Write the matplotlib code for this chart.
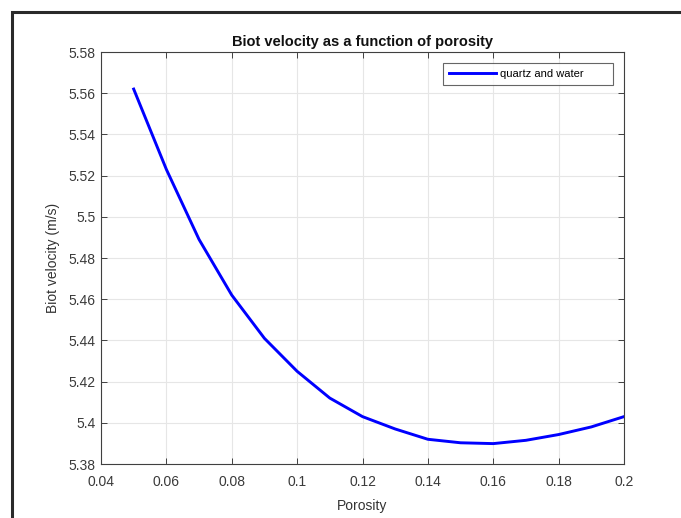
import matplotlib
matplotlib.use("Agg")
import matplotlib.pyplot as plt
from matplotlib.patches import Rectangle
from matplotlib.ticker import FormatStrFormatter

plt.rcParams["font.family"] = ["Liberation Sans", "DejaVu Sans"]

# data
porosity = [0.05, 0.06, 0.07, 0.08, 0.09, 0.10, 0.11, 0.12,
            0.13, 0.14, 0.15, 0.16, 0.17, 0.18, 0.19, 0.20]
velocity = [5.562, 5.523, 5.489, 5.462, 5.441, 5.425, 5.412, 5.403,
            5.397, 5.392, 5.3903, 5.3899, 5.3915, 5.3943, 5.398, 5.403]
x_ticks = [0.04, 0.06, 0.08, 0.1, 0.12, 0.14, 0.16, 0.18, 0.2]
y_ticks = [5.38, 5.4, 5.42, 5.44, 5.46, 5.48, 5.5, 5.52, 5.54, 5.56, 5.58]

W, H = 681, 518
fig = plt.figure(figsize=(W / 100, H / 100), dpi=100)

# dark frame of the screenshot (cropped on right and bottom)
frame = Rectangle((11.5 / W, -0.1), 1.2, 1.1 - 12 / H, transform=fig.transFigure,
                  fill=False, edgecolor="#2a2a2a", linewidth=2.2, clip_on=False)
fig.patches.append(frame)

ax = fig.add_axes([101 / W, 1 - 464 / H, 523 / W, 412 / H])
ax.plot(porosity, velocity, color=(0, 0, 1), linewidth=2.1, label="quartz and water")

ax.set_xlim(0.04, 0.2)
ax.set_ylim(5.38, 5.58)
ax.set_xticks(x_ticks)
ax.set_yticks(y_ticks)
ax.xaxis.set_major_formatter(FormatStrFormatter("%g"))
ax.yaxis.set_major_formatter(FormatStrFormatter("%g"))

ax.grid(True, color="#e6e6e6", linewidth=0.8)
ax.set_axisbelow(True)
ax.tick_params(direction="in", top=True, right=True, length=4, width=0.7,
               colors="#404040", labelsize=10, labelcolor="#3a3a3a")
ax.tick_params(axis="x", pad=8)
ax.tick_params(axis="y", pad=4)
for sp in ax.spines.values():
    sp.set_color("#404040")
    sp.set_linewidth(0.8)

ax.set_title("Biot velocity as a function of porosity", fontsize=10.5,
             fontweight="bold", color="#111111", pad=4)
ax.set_xlabel("Porosity", fontsize=10, color="#333333", labelpad=7)
ax.set_ylabel("Biot velocity (m/s)", fontsize=10, color="#333333", labelpad=6)

leg = ax.legend(loc="upper left", bbox_to_anchor=(0.654, 0, 0.325, 0.973),
                mode="expand", borderaxespad=0, fontsize=8, frameon=True,
                fancybox=False, handlelength=4.2, handletextpad=0.4, borderpad=0.55)
leg.get_frame().set_edgecolor("#404040")
leg.get_frame().set_linewidth(0.8)

fig.savefig("out.png", dpi=100)
